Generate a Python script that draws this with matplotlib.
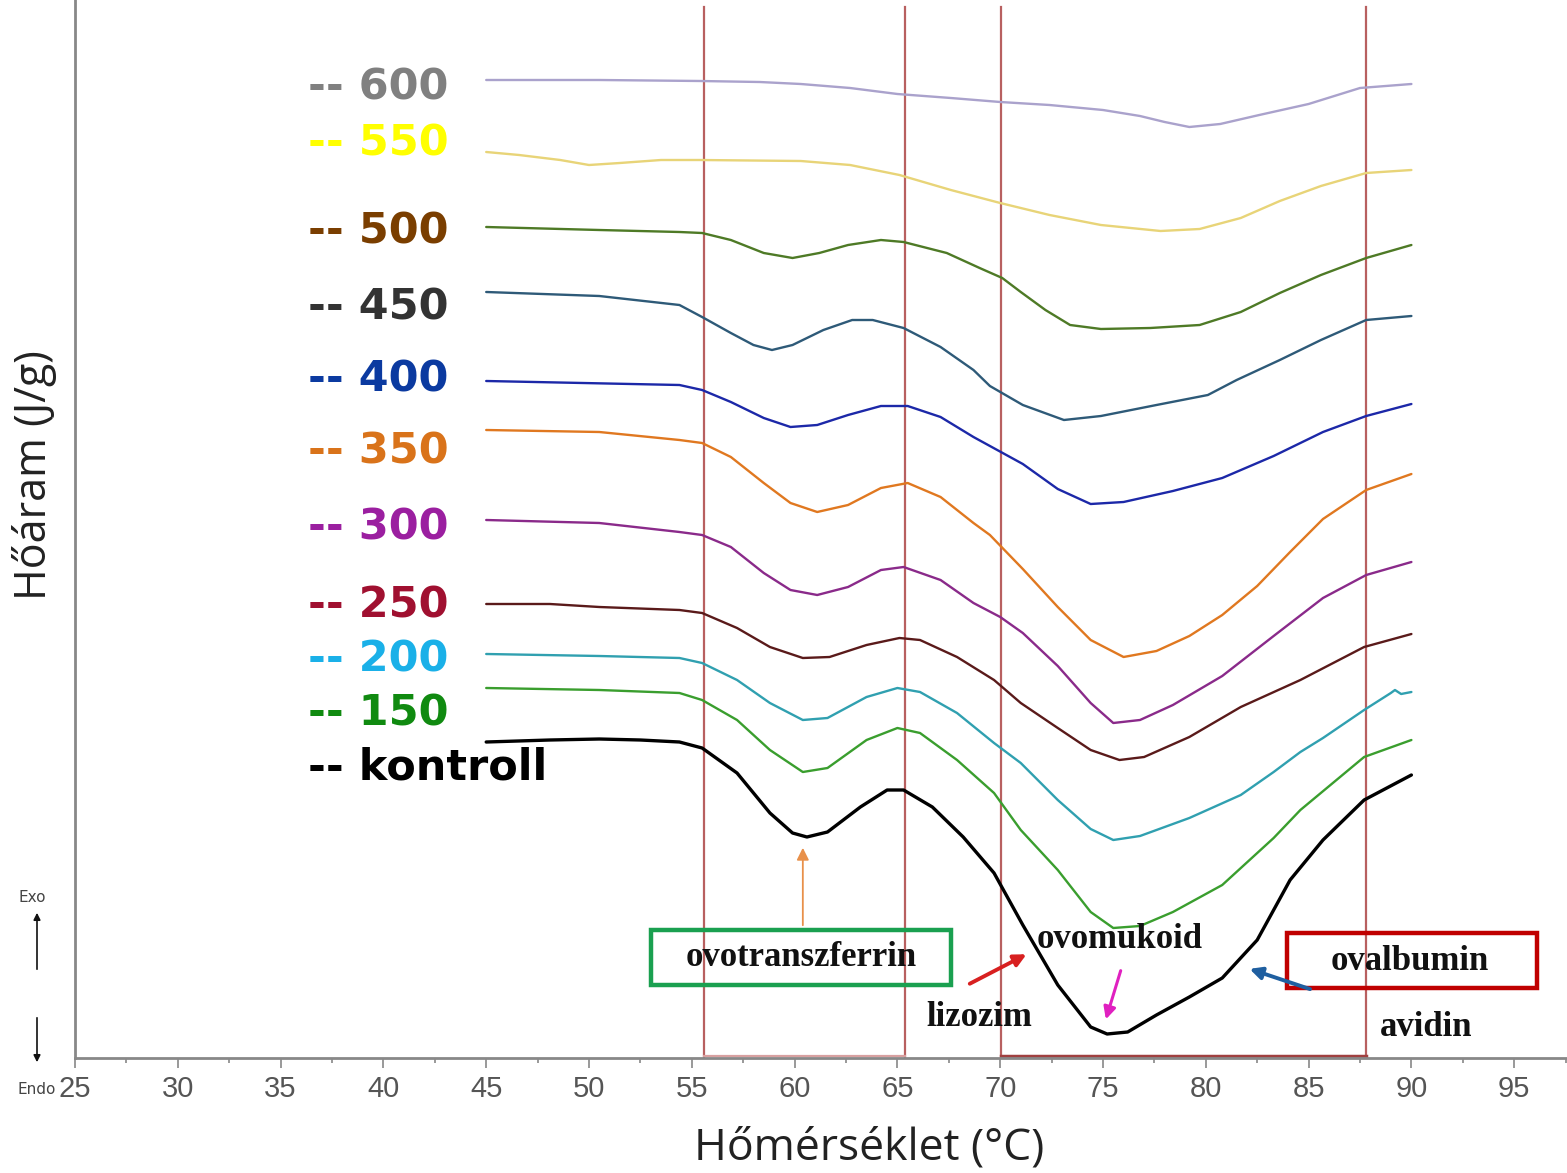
import matplotlib
matplotlib.use("Agg")
import matplotlib.pyplot as plt
from matplotlib.patches import Rectangle, FancyArrowPatch

# ---------------- data ----------------
x600 = [45.0, 50.5, 55.4, 58.3, 60.3, 62.7, 65.0, 67.6, 70.0, 72.4, 75.0, 76.8, 78.0, 79.2, 80.7, 82.6, 85.0, 87.5, 90.0]
y600 = [97.8, 97.8, 97.7, 97.6, 97.4, 97.0, 96.4, 96.0, 95.6, 95.3, 94.8, 94.2, 93.6, 93.1, 93.4, 94.3, 95.4, 97.0, 97.4]

x550 = [45.0, 46.6, 48.6, 50.0, 51.5, 53.5, 55.4, 60.3, 62.7, 65.1, 67.6, 70.0, 72.4, 74.9, 77.8, 79.7, 81.7, 83.6, 85.6, 87.8, 90.0]
y550 = [90.6, 90.3, 89.8, 89.3, 89.5, 89.8, 89.8, 89.7, 89.3, 88.3, 86.8, 85.5, 84.3, 83.3, 82.7, 82.9, 84.0, 85.7, 87.2, 88.5, 88.8]

x500 = [45.0, 50.5, 54.4, 55.5, 56.9, 58.5, 59.9, 61.2, 62.6, 64.2, 65.3, 67.4, 69.0, 70.1, 71.0, 72.2, 73.4, 74.9, 77.3, 79.7, 81.7, 83.6, 85.6, 87.8, 90.0]
y500 = [83.1, 82.8, 82.6, 82.5, 81.8, 80.5, 80.0, 80.5, 81.3, 81.8, 81.6, 80.5, 79.0, 78.0, 76.6, 74.8, 73.3, 72.9, 73.0, 73.3, 74.6, 76.5, 78.3, 80.0, 81.3]

x450 = [45.0, 50.5, 54.4, 55.5, 56.9, 58.0, 58.9, 59.9, 61.4, 62.8, 63.8, 65.3, 67.1, 68.7, 69.5, 71.1, 73.1, 74.9, 77.6, 80.1, 81.5, 83.6, 85.6, 87.8, 90.0]
y450 = [76.6, 76.2, 75.3, 74.1, 72.5, 71.3, 70.8, 71.3, 72.8, 73.8, 73.8, 73.0, 71.1, 68.8, 67.2, 65.3, 63.8, 64.2, 65.3, 66.3, 67.8, 69.8, 71.8, 73.8, 74.2]

x400 = [45.0, 54.4, 55.5, 56.9, 58.5, 59.8, 61.1, 62.6, 64.2, 65.5, 67.1, 68.7, 69.5, 71.1, 72.8, 74.4, 76.0, 78.4, 80.8, 83.3, 85.7, 87.8, 90.0]
y400 = [67.7, 67.3, 66.8, 65.6, 64.0, 63.1, 63.3, 64.3, 65.2, 65.2, 64.1, 62.1, 61.2, 59.4, 56.9, 55.4, 55.6, 56.7, 58.0, 60.2, 62.6, 64.2, 65.4]

x350 = [45.0, 50.5, 54.4, 55.5, 56.9, 58.5, 59.8, 61.1, 62.6, 64.2, 65.5, 67.1, 68.7, 69.5, 71.1, 72.8, 74.4, 76.0, 77.6, 79.2, 80.8, 82.5, 84.1, 85.7, 87.8, 90.0]
y350 = [62.8, 62.6, 61.8, 61.5, 60.1, 57.5, 55.5, 54.6, 55.3, 57.0, 57.5, 56.1, 53.5, 52.3, 48.9, 45.1, 41.8, 40.1, 40.7, 42.2, 44.3, 47.2, 50.6, 53.9, 56.8, 58.4]

x300 = [45.0, 50.5, 54.4, 55.5, 56.9, 58.5, 59.8, 61.1, 62.6, 64.2, 65.3, 67.1, 68.7, 70.0, 71.1, 72.8, 74.4, 75.5, 76.8, 78.4, 80.8, 83.3, 85.7, 87.8, 90.0]
y300 = [53.8, 53.5, 52.6, 52.3, 51.1, 48.5, 46.8, 46.3, 47.1, 48.8, 49.1, 47.8, 45.5, 44.1, 42.5, 39.2, 35.5, 33.5, 33.8, 35.3, 38.2, 42.2, 46.0, 48.3, 49.6]

x250 = [45.0, 48.1, 50.5, 54.4, 55.5, 57.2, 58.8, 60.4, 61.7, 63.5, 65.1, 66.1, 67.9, 69.7, 71.0, 72.8, 74.4, 75.8, 77.0, 79.2, 81.7, 84.6, 87.7, 90.0]
y250 = [45.4, 45.4, 45.1, 44.8, 44.5, 43.0, 41.1, 40.0, 40.1, 41.3, 42.0, 41.8, 40.1, 37.8, 35.5, 33.0, 30.8, 29.8, 30.1, 32.1, 35.1, 37.8, 41.1, 42.4]

x200 = [45.0, 50.5, 54.4, 55.5, 57.2, 58.8, 60.4, 61.6, 63.5, 65.0, 66.1, 67.9, 69.7, 71.0, 72.8, 74.4, 75.5, 76.8, 79.2, 81.7, 83.3, 84.6, 85.7, 87.7, 89.0, 89.2, 89.5, 90.0]
y200 = [40.4, 40.2, 40.0, 39.5, 37.8, 35.5, 33.8, 34.0, 36.1, 37.0, 36.6, 34.5, 31.5, 29.5, 25.8, 22.9, 21.8, 22.2, 24.0, 26.3, 28.6, 30.6, 32.0, 34.8, 36.5, 36.8, 36.4, 36.6]

x150 = [45.0, 50.5, 54.4, 55.5, 57.2, 58.8, 60.4, 61.6, 63.5, 65.0, 66.1, 67.9, 69.7, 71.0, 72.8, 74.4, 75.5, 76.8, 78.4, 80.8, 83.3, 84.6, 87.7, 90.0]
y150 = [37.0, 36.8, 36.5, 35.8, 33.8, 30.8, 28.6, 29.0, 31.8, 33.0, 32.5, 29.8, 26.5, 22.8, 18.8, 14.6, 13.0, 13.2, 14.6, 17.3, 22.0, 24.8, 30.1, 31.8]

xkontroll = [45.0, 48.1, 50.5, 52.5, 54.4, 55.5, 57.2, 58.8, 59.9, 60.6, 61.6, 63.2, 64.5, 65.3, 66.7, 68.2, 69.7, 71.1, 72.8, 74.4, 75.2, 76.2, 77.6, 79.2, 80.8, 82.5, 84.1, 85.7, 87.7, 90.0]
ykontroll = [31.6, 31.8, 31.9, 31.8, 31.6, 31.0, 28.5, 24.5, 22.5, 22.1, 22.6, 25.1, 26.8, 26.8, 25.1, 22.1, 18.5, 13.3, 7.3, 3.1, 2.4, 2.6, 4.3, 6.1, 8.0, 11.8, 17.8, 21.8, 25.8, 28.3]

series_names = ["600", "550", "500", "450", "400", "350", "300", "250", "200", "150", "kontroll"]
series_x = [x600, x550, x500, x450, x400, x350, x300, x250, x200, x150, xkontroll]
series_y = [y600, y550, y500, y450, y400, y350, y300, y250, y200, y150, ykontroll]

boundary_temps = [55.6, 65.35, 70.05, 87.8]
x_ticks = [25, 30, 35, 40, 45, 50, 55, 60, 65, 70, 75, 80, 85, 90, 95]

# ---------------- styles / layout ----------------
line_colors = ["#aaa2cc", "#e8d478", "#4e7a26", "#2e5a78", "#1c28a8", "#e07820",
               "#8a2a8a", "#5a1a1a", "#30a0b0", "#3a9e2e", "#000000"]
line_widths = [1.7] * 10 + [2.4]
label_colors = ["#808080", "#ffff00", "#7a3e00", "#333333", "#0b3aa0", "#d9731a",
                "#9b1fa0", "#a01030", "#1ab0e8", "#108a10", "#000000"]
label_y = [97.0, 91.5, 82.6, 75.1, 67.8, 60.7, 53.0, 45.3, 39.9, 34.5, 29.0]

W, H = 1567, 1173
fig = plt.figure(figsize=(W / 100, H / 100), dpi=100)
ax = fig.add_axes([75 / W, 115 / H, (W - 75) / W, 1058 / H])
ax.set_xlim(25, 25 + (W - 75) / 20.56)
ax.set_ylim(0, 105.8)

# boundary lines / boxes
for bx in boundary_temps:
    ax.plot([bx, bx], [0, 105.1], color="#b86060", lw=1.6, zorder=1)
ax.plot([boundary_temps[0], boundary_temps[1]], [0.25, 0.25], color="#d8a0a0", lw=1.6, zorder=1)
ax.plot([boundary_temps[2], boundary_temps[3]], [0.25, 0.25], color="#a04040", lw=2.5, zorder=1)

# curves
for xs, ys, c, lw in zip(series_x, series_y, line_colors, line_widths):
    ax.plot(xs, ys, color=c, lw=lw, zorder=3, solid_joinstyle="round", solid_capstyle="round")

# labels
for name, c, ly in zip(series_names, label_colors, label_y):
    ax.text(36.33, ly, "-- " + name, color=c, fontsize=31, fontweight="bold",
            family="DejaVu Sans", ha="left", va="center", zorder=4)

# spines / ticks
for s in ["top", "right"]:
    ax.spines[s].set_visible(False)
for s in ["left", "bottom"]:
    ax.spines[s].set_color("#888888")
    ax.spines[s].set_linewidth(2)
ax.set_yticks([])
ax.set_xticks(x_ticks)
ax.set_xticks([t + 2.5 for t in x_ticks], minor=True)
ax.tick_params(axis="x", which="major", direction="out", length=7, width=1.2,
               color="#888888", labelsize=21, labelcolor="#555555", pad=5)
ax.tick_params(axis="x", which="minor", direction="out", length=3.5, width=1.2, color="#888888")
for lbl in ax.get_xticklabels():
    lbl.set_family("Liberation Sans")

# annotations
serif = "Liberation Serif"
ann_kw = dict(fontsize=25, fontweight="bold", family=serif, ha="center", va="center",
              color="#111111", zorder=6)
ax.add_patch(Rectangle((53.0, 7.3), 14.6, 5.5, fill=False, ec="#1aa050", lw=3.2, zorder=5))
ax.text(60.3, 10.0, "ovotranszferrin", **ann_kw)
ax.add_patch(Rectangle((83.95, 7.0), 12.15, 5.5, fill=False, ec="#c00000", lw=3.2, zorder=5))
ax.text(89.9, 9.6, "ovalbumin", **ann_kw)
ax.text(75.8, 11.8, "ovomukoid", **ann_kw)
ax.text(69.0, 4.1, "lizozim", **ann_kw)
ax.text(90.7, 3.1, "avidin", **ann_kw)

arrows = [((60.4, 13.0), (60.4, 21.3), "#e8904a", 1.3),
          ((68.4, 7.3), (71.4, 10.5), "#d82020", 2.8),
          ((75.9, 9.0), (75.1, 3.6), "#e020c0", 2.2),
          ((85.2, 6.8), (82.0, 9.0), "#1f5fa0", 2.8)]
for p0, p1, c, lw in arrows:
    ax.add_patch(FancyArrowPatch(p0, p1, arrowstyle="-|>", mutation_scale=18,
                                 color=c, lw=lw, zorder=6))

# axis titles
fig.text(869 / W, 1 - 1148 / H, "Hőmérséklet (°C)", fontsize=32, family="Open Sans",
         ha="center", va="center", color="#222222")
fig.text(35 / W, 1 - 475 / H, "Hőáram (J/g)", fontsize=31, family="Open Sans",
         ha="center", va="center", rotation=90, color="#222222")

# Exo / Endo indicator
fig.text(32 / W, 1 - 897 / H, "Exo", fontsize=11, family="DejaVu Sans", ha="center",
         va="center", color="#444444")
fig.text(37 / W, 1 - 1090 / H, "Endo", fontsize=11, family="DejaVu Sans", ha="center",
         va="center", color="#444444")
fig.add_artist(FancyArrowPatch((37 / W, 1 - 972 / H), (37 / W, 1 - 910 / H),
                               transform=fig.transFigure, arrowstyle="-|>",
                               mutation_scale=10, color="#111111", lw=1.2))
fig.add_artist(FancyArrowPatch((37 / W, 1 - 1015 / H), (37 / W, 1 - 1065 / H),
                               transform=fig.transFigure, arrowstyle="-|>",
                               mutation_scale=10, color="#111111", lw=1.2))

fig.savefig("out.png", dpi=100)
